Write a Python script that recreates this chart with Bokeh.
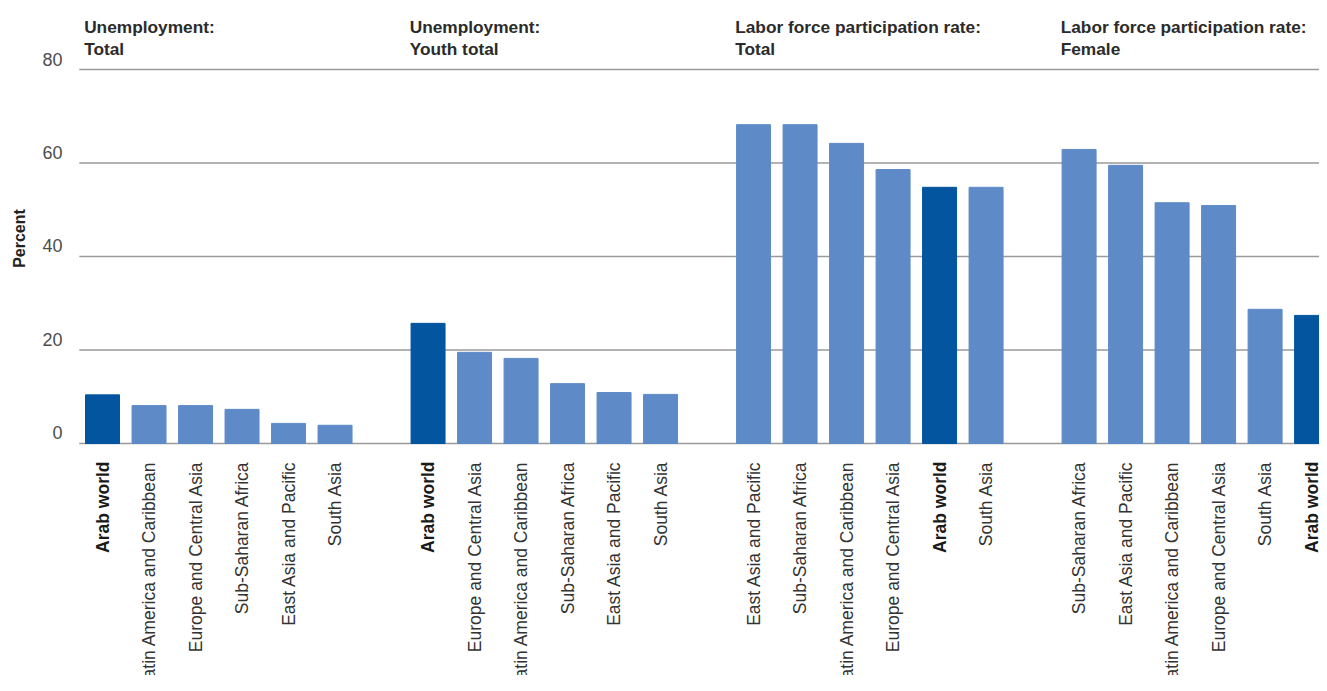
import math
from bokeh.plotting import figure
from bokeh.models import ColumnDataSource, Range1d, Label
from bokeh.core.properties import value
from bokeh.embed import file_html
from bokeh.resources import INLINE

# ---------------- data ----------------
title_line1 = ["Unemployment:", "Unemployment:",
               "Labor force participation rate:", "Labor force participation rate:"]
title_line2 = ["Total", "Youth total", "Total", "Female"]

p1_regions = ["Arab world", "Latin America and Caribbean", "Europe and Central Asia",
              "Sub-Saharan Africa", "East Asia and Pacific", "South Asia"]
p1_values = [10.4, 8.1, 8.1, 7.3, 4.3, 3.9]

p2_regions = ["Arab world", "Europe and Central Asia", "Latin America and Caribbean",
              "Sub-Saharan Africa", "East Asia and Pacific", "South Asia"]
p2_values = [25.7, 19.5, 18.2, 12.8, 10.9, 10.5]

p3_regions = ["East Asia and Pacific", "Sub-Saharan Africa", "Latin America and Caribbean",
              "Europe and Central Asia", "Arab world", "South Asia"]
p3_values = [68.2, 68.2, 64.2, 58.6, 54.8, 54.8]

p4_regions = ["Sub-Saharan Africa", "East Asia and Pacific", "Latin America and Caribbean",
              "Europe and Central Asia", "South Asia", "Arab world"]
p4_values = [62.9, 59.5, 51.5, 50.9, 28.7, 27.4]

y_ticks = [0, 20, 40, 60, 80]
y_label = "Percent"
highlight = "Arab world"

# ---------------- styling ----------------
FONT = "Liberation Sans"
DARK = "#02559E"
LIGHT = "#5E8BC7"
GRID = "#9a9a9a"
SLOTS_PER_PANEL = 7
BAR_W = 0.731
W, H = 1319, 675

panels = [(p1_regions, p1_values), (p2_regions, p2_values),
          (p3_regions, p3_values), (p4_regions, p4_values)]

xs, tops, cols, names = [], [], [], []
for pi, (regs, vals) in enumerate(panels):
    for bi, (r, v) in enumerate(zip(regs, vals)):
        xs.append(pi * SLOTS_PER_PANEL + bi)
        tops.append(v)
        cols.append(DARK if r == highlight else LIGHT)
        names.append(r)

bars = ColumnDataSource(dict(x=xs, top=tops, color=cols, name=names))

p = figure(width=W, height=H, output_backend="svg", toolbar_location=None,
           x_range=Range1d(-2.194, 26.17), y_range=Range1d(-49.63, 94.76),
           x_axis_location=None, y_axis_location=None, min_border=0,
           outline_line_color=None, background_fill_color="white",
           border_fill_color="white")
p.grid.visible = False

# gridlines
n_slots = len(panels) * SLOTS_PER_PANEL
p.segment(x0=[-0.5] * len(y_ticks), x1=[n_slots] * len(y_ticks),
          y0=y_ticks, y1=y_ticks, line_color=GRID, line_width=1.5)

# bars
p.vbar(x="x", top="top", bottom=0, width=BAR_W, color="color", source=bars)

# y tick labels (sit just above their gridline)
p.text(x=[-0.86] * len(y_ticks), y=y_ticks, text=[str(t) for t in y_ticks],
       text_align="right", text_baseline="middle", y_offset=-10.5,
       text_font=value(FONT), text_font_size="18px", text_color="#4d4d4d")

# y axis label
p.add_layout(Label(x=19, y=H - 238, x_units="screen", y_units="screen",
                   text=y_label, angle=math.pi / 2, text_align="center",
                   text_baseline="middle", text_font=FONT,
                   text_font_size="16px", text_font_style="bold",
                   text_color="#222222"))

# category labels
norm = dict(x=[x for x, n in zip(xs, names) if n != highlight],
            t=[n for n in names if n != highlight])
bold = dict(x=[x for x, n in zip(xs, names) if n == highlight],
            t=[n for n in names if n == highlight])
for d, style, color in ((norm, "normal", "#333333"), (bold, "bold", "#1a1a1a")):
    p.text(x=d["x"], y=[0] * len(d["x"]), text=d["t"], angle=math.pi / 2,
           text_align="right", text_baseline="middle", y_offset=18,
           text_font=value(FONT), text_font_size="17.5px",
           text_font_style=style, text_color=color)

# panel titles
tx = [pi * SLOTS_PER_PANEL - BAR_W / 2 - 0.03 for pi in range(len(panels))]
p.text(x=tx, y=[80] * 4, text=title_line1, text_align="left",
       text_baseline="middle", y_offset=-43, text_font=value(FONT),
       text_font_size="17.3px", text_font_style="bold", text_color="#2b2b2b")
p.text(x=tx, y=[80] * 4, text=title_line2, text_align="left",
       text_baseline="middle", y_offset=-21, text_font=value(FONT),
       text_font_size="17.3px", text_font_style="bold", text_color="#2b2b2b")

open("out.html", "w").write(file_html(p, INLINE))
